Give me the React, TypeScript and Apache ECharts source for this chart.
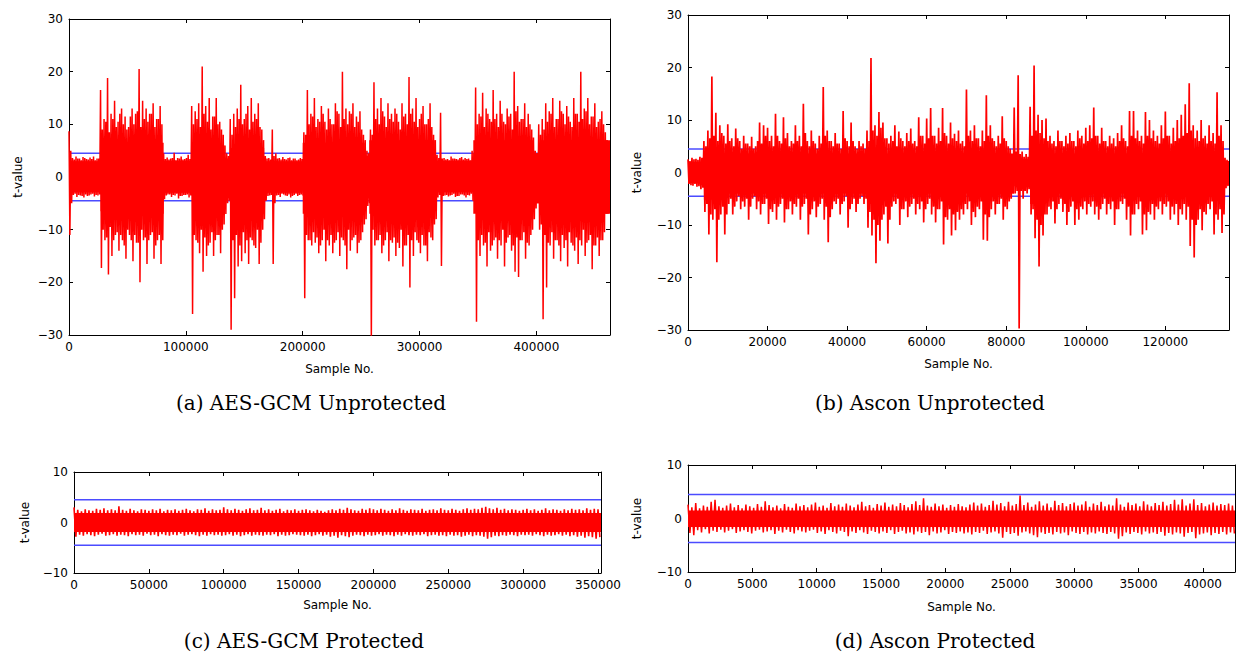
import React, { useEffect, useRef } from 'react';
import * as echarts from 'echarts';

// ---------- shared ----------
const THRESHOLD = 4.5;

// ---------- (a) AES-GCM Unprotected : per 3000-sample bin ----------
const A_STEP = 3000;
const A_MAX = 463000;
// extreme max / min in each bin
const A_HI = [
  8.7,
  3.6, 3.9, 3.5, 3.8, 3.4, 3.7, 3.9, 3.5,
  16.5, 11, 18.8, 12, 14.5, 10.5, 13, 11.5, 9.5, 13, 12, 20.5, 14.5, 13, 12, 14, 11, 13.5,
  4.5, 3.7, 3.5, 4.6, 3.6, 3.9, 3.4, 4.2,
  13.5, 12.5, 14, 21, 13.5, 15, 11.5, 15, 10.5, 8, 4.5,
  11, 12, 13, 17.5, 11, 13.5, 15, 12, 14, 9,
  4, 3.6, 9,
  4.5, 3.6, 3.8, 3.3, 3.7, 3.5, 3.2, 3.6,
  8.5, 16.5, 12, 15, 11, 13.5, 10.5, 13, 10, 14, 12, 20, 13, 12.5, 14, 11.5, 12.5, 8, 5,
  9, 18, 13, 15, 11.5, 14, 12, 13, 10.5, 14, 12, 19, 13, 15, 11, 13.5, 10, 14, 8,
  4.2, 12.2,
  3.6, 3.4, 3.9, 3.5, 3.3, 3.8, 3.6, 3.5,
  5, 17, 12, 16, 13, 11, 16.5, 12, 14.5, 10.5, 13, 12, 20, 13.5, 11, 14, 12, 9, 5, 10,
  11, 14, 12.5, 15, 11, 14.5, 12, 13.5, 10.5, 15, 12, 20, 13, 15, 11.5, 14, 10.5, 12.5, 8.5,
];
const A_LO = [
  -11,
  -3.4, -3.8, -3.5, -3.9, -3.6, -3.3, -3.7, -3.5,
  -17.3, -12, -18.5, -15, -11, -14, -12, -15.5, -11, -16, -12.5, -20, -12, -16.5, -11, -15.5, -12, -16.5,
  -4.2, -3.3, -3.8, -3.5, -4.1, -3.6, -3.4, -3.9,
  -26, -12, -14.5, -18, -15, -12.5, -15, -11, -14.5, -9, -5,
  -29, -23, -17, -16, -14.5, -16.5, -12, -13.5, -16.5, -10,
  -4.5, -3.5, -16.5,
  -3.5, -3.8, -3.3, -3.6, -3.9, -3.4, -3.6, -3.3,
  -23, -12, -13, -12.5, -14.5, -12, -16, -13, -14.5, -12, -15, -12, -17.5, -14, -11.5, -14.5, -12, -9, -5.5,
  -31, -13, -12, -14.5, -12, -16, -12.5, -15, -13.5, -17, -13, -21, -15, -12, -14.5, -13, -16, -11.5, -9,
  -3.9, -16.9,
  -3.5, -3.7, -3.4, -3.8, -3.6, -3.3, -3.9, -3.5,
  -4.5, -27.5, -15, -13, -17, -14, -12, -15.5, -13, -17, -11.5, -14, -18, -19, -12, -15.5, -13, -10, -6, -10,
  -27, -21, -13, -15.5, -12, -16, -13.5, -17, -12.5, -14, -16.5, -13, -15, -12, -17.5, -13, -15, -12, -7,
];
// secondary (typical) peaks in each bin
const A_MHI = [
  5,
  3.3, 3.5, 3.2, 3.6, 3.3, 3.4, 3.2, 3.5,
  9, 10.5, 8.5, 11, 9.5, 12, 10, 9, 11.5, 10, 12.5, 9.5, 11, 10.5, 12, 9.5, 11, 10,
  3.4, 3.3, 3.6, 3.2, 3.5, 3.3, 3.6, 3.4,
  10, 11, 9.5, 12, 10.5, 9, 11.5, 10, 9, 6, 4,
  8, 9.5, 11, 10, 12, 9, 10.5, 11, 9.5, 7,
  3.5, 3.3, 4,
  3.5, 3.3, 3.4, 3.6, 3.2, 3.5, 3.3, 3.4,
  8, 10, 11.5, 9.5, 10.5, 12, 9, 11, 10, 12.5, 9.5, 11, 10, 12, 9.5, 10.5, 9, 7, 4.5,
  8, 11, 10, 12.5, 9.5, 11, 10.5, 12, 9, 11.5, 10, 12, 10.5, 9.5, 12, 10, 11, 9.5, 7,
  3.6, 3.5,
  3.3, 3.2, 3.5, 3.4, 3.6, 3.3, 3.4, 3.2,
  4.5, 10, 11.5, 9.5, 12, 10.5, 11, 9.5, 12, 10, 11.5, 9, 12.5, 10.5, 11, 9.5, 10, 7.5, 4.5, 8,
  9, 10.5, 12, 9.5, 11, 12.5, 10, 11.5, 9.5, 12, 10.5, 11, 12.5, 10, 11.5, 9.5, 11, 10, 7,
];
const A_MLO = [
  -5,
  -3.2, -3.4, -3.6, -3.3, -3.5, -3.2, -3.4, -3.3,
  -10, -11.5, -9.5, -12, -10.5, -11, -13, -10, -12, -11, -12.5, -10, -11.5, -12, -10.5, -13, -11, -12,
  -3.5, -3.3, -3.4, -3.2, -3.6, -3.4, -3.3, -3.5,
  -11, -12.5, -10, -11.5, -13, -10.5, -12, -11, -10, -7, -4.5,
  -12, -11, -13, -10.5, -12, -11.5, -13, -10, -12.5, -8,
  -3.6, -3.4, -5,
  -3.4, -3.2, -3.5, -3.3, -3.6, -3.2, -3.4, -3.5,
  -11, -12, -10.5, -11.5, -13, -10, -12, -11, -12.5, -10.5, -11.5, -13, -10, -12, -11, -12.5, -10.5, -8, -5,
  -10, -12, -11, -13, -10.5, -12, -11.5, -12.5, -10, -13, -11, -12, -10.5, -12.5, -11, -13, -10.5, -12, -8,
  -3.4, -3.6,
  -3.4, -3.5, -3.2, -3.6, -3.3, -3.5, -3.4, -3.2,
  -5, -12, -11, -12.5, -10.5, -13, -11.5, -12, -10, -12.5, -11, -13, -11.5, -12, -10.5, -12.5, -11, -8, -5, -9,
  -11, -12.5, -10.5, -12, -13, -11, -12, -10.5, -13, -11.5, -12, -10, -12.5, -11, -13, -11.5, -12, -10.5, -7,
];
// dense band: [startSample, endSample, top, bottom]
const A_CORE = [
  [0, 27000, 3.0, -2.9],
  [27000, 45000, 6, -6.5],
  [45000, 81000, 6.5, -7],
  [81000, 106000, 3.1, -3.0],
  [106000, 133000, 6, -7],
  [133000, 138000, 3.5, -4],
  [138000, 167000, 5.5, -7],
  [167000, 200000, 3.0, -3.0],
  [200000, 253000, 6.5, -7],
  [253000, 257000, 4, -4],
  [257000, 313000, 7, -7],
  [313000, 346000, 3.1, -2.9],
  [346000, 397000, 7, -7],
  [397000, 403000, 4.5, -5],
  [403000, 463000, 7, -7],
];

// ---------- (b) Ascon Unprotected : per 1000-sample bin ----------
const B_STEP = 1000;
const B_MAX = 136000;
const B_HI = [
  2.5, 2.8, 2.6, 3.0, 6, 8, 18.3, 11.4, 9, 7,
  9.2, 6.5, 8.4, 6, 7, 5.5, 6.8, 5, 9.5, 9,
  8.5, 7, 11.2, 6, 10.5, 7.5, 6, 9, 7, 13.1,
  6, 8, 5.5, 7, 16.3, 8, 6, 7.5, 5.5, 11.7,
  6, 9.5, 5, 6, 5.5, 8, 21.8, 9, 11.5, 9.5,
  6.5, 7, 9, 7.8, 6, 7.5, 8.4, 6, 10.5, 7,
  10.3, 12.3, 7, 8.5, 12.3, 7, 9.5, 7.4, 8, 6,
  15.8, 8, 9, 6.5, 8, 14.7, 9, 6, 7, 10.7,
  6, 4.5, 12.4, 18.5, 4, 3.5, 12.5, 20.4, 11, 10,
  10.3, 7, 6, 8, 6, 7, 7.5, 6, 8, 7,
  8.5, 9, 12.4, 7, 8.5, 6, 7, 6.5, 7.5, 9,
  6, 11.7, 11.7, 8, 7, 11.5, 10, 8, 7, 9,
  11.6, 7, 8.5, 10, 11, 13, 17, 9, 8, 10,
  7, 9, 7.5, 15.3, 9, 2.8,
];
const B_LO = [
  -2.2, -2.5, -2.7, -3.2, -7.5, -11.8, -9, -17.1, -8, -11.8,
  -6, -8, -5.5, -7, -6.5, -9, -5, -7, -8, -6,
  -9.8, -7.5, -9, -6, -9.5, -7, -8, -6.5, -9, -6,
  -11.8, -7, -8.5, -6, -9, -13.3, -7, -6, -8, -5.5,
  -10.5, -6, -7.5, -5, -6, -10.5, -12, -17.3, -13, -8,
  -13.5, -6.5, -6, -10, -7, -8.5, -6, -8, -7, -9.5,
  -6, -8, -9.5, -7, -13.7, -9, -12, -11, -9, -8,
  -7, -10, -8.5, -7, -12.8, -13, -7, -8, -6, -9,
  -7, -5, -4, -29.7, -5, -4, -8, -12.5, -17.9, -12,
  -8, -7, -9.7, -6, -7.5, -10, -6.5, -10, -9, -7,
  -8, -6.5, -8, -9, -6, -8, -7, -10, -7, -6,
  -9, -12, -8, -7, -11.8, -11, -8, -9, -7, -8,
  -6.5, -9, -8, -10, -8, -9, -14, -16.2, -9, -11,
  -8, -7, -11.8, -9, -11.5, -3,
];
const B_MHI = [
  2.2, 2.5, 2.4, 2.8, 5, 6.5, 7, 6, 7.5, 5.5,
  6, 5, 6.5, 4.5, 5.5, 5, 4.5, 6, 5.5, 7,
  6, 5, 7, 5.5, 6.5, 5, 5.5, 6, 5, 7.5,
  5, 6, 4.5, 5.5, 7, 6, 5, 5.5, 4.5, 6.5,
  5, 6, 4.5, 5, 4.5, 6, 8, 7, 8.5, 6.5,
  5.5, 6, 5, 6.5, 5, 6, 5.5, 5, 7, 5.5,
  6.5, 7, 5.5, 6, 7.5, 5.5, 6.5, 6, 5.5, 5,
  7, 6, 6.5, 5, 6, 7, 6.5, 5, 5.5, 6.5,
  5, 3.5, 4, 3.5, 3, 3, 7, 8, 7.5, 6.5,
  6, 5.5, 5, 6, 5, 5.5, 6, 5, 6.5, 5.5,
  6, 6.5, 7, 5.5, 6, 5, 5.5, 5, 6, 6.5,
  5, 7, 6.5, 6, 5.5, 7, 6.5, 6, 5.5, 6.5,
  7, 5.5, 6, 6.5, 7, 7.5, 8, 6.5, 6, 6.5,
  5.5, 6, 5.5, 7, 6, 2.4,
];
const B_MLO = [
  -2.4, -2.2, -2.6, -2.9, -6, -8, -7, -9, -6.5, -8,
  -5, -6.5, -4.5, -5.5, -5, -6.5, -4.5, -5.5, -6, -5,
  -7, -6, -6.5, -5, -7, -5.5, -6, -5, -6.5, -5,
  -8, -5.5, -6.5, -5, -6.5, -8.5, -5.5, -5, -6, -4.5,
  -7, -5, -6, -4.5, -5, -7.5, -9, -10, -9, -6.5,
  -9, -5.5, -5, -7, -5.5, -6.5, -5, -6, -5.5, -7,
  -5, -6.5, -7, -5.5, -8.5, -7, -8, -7.5, -7, -6,
  -5.5, -7.5, -6.5, -5.5, -8, -8.5, -5.5, -6, -5, -6.5,
  -5.5, -4, -3.5, -3.5, -3.5, -3.2, -7, -9, -10, -8,
  -6.5, -5.5, -7, -5, -6, -7.5, -5.5, -7, -6.5, -5.5,
  -6, -5.5, -6.5, -7, -5, -6, -5.5, -7, -5.5, -5,
  -6.5, -8, -6, -5.5, -8, -7.5, -6, -6.5, -5.5, -6,
  -5.5, -6.5, -6, -7, -6, -6.5, -9, -10, -7, -7.5,
  -6, -5.5, -8, -7, -8, -2.6,
];
const B_CORE = [
  [0, 4000, 2.0, -2.0],
  [4000, 9000, 4.2, -5.2],
  [9000, 45000, 3.6, -4],
  [45000, 49000, 4.8, -6],
  [49000, 82000, 3.6, -4],
  [82000, 86000, 2.6, -2.6],
  [86000, 90000, 4.8, -6],
  [90000, 134000, 3.6, -4],
  [134000, 136000, 2.2, -2.4],
];

// ---------- (c) AES-GCM Protected : extremes per 2500-sample bin ----------
const C_STEP = 2500;
const C_MAX = 352000;
const C_HI = [
  3.0, 2.5, 2.2, 2.6, 2.4, 2.3, 2.7, 2.5, 2.8, 2.4,
  2.6, 2.4, 3.2, 2.5, 2.3, 2.7, 2.4, 2.2, 2.6, 2.5,
  2.3, 2.6, 2.4, 2.7, 2.2, 2.5, 2.4, 2.6, 2.3, 2.5,
  2.7, 2.4, 2.2, 2.6, 2.5, 2.8, 2.3, 2.6, 2.4, 2.5,
  3.0, 2.6, 2.4, 2.7, 2.5, 2.3, 2.6, 2.8, 2.4, 2.5,
  2.9, 2.4, 2.6, 2.3, 2.5, 2.7, 2.2, 2.5, 2.4, 2.6,
  2.3, 2.5, 2.6, 2.4, 2.2, 2.5, 2.3, 2.1, 2.4, 2.6,
  2.4, 2.7, 2.5, 2.9, 2.6, 2.4, 2.3, 2.7, 2.5, 2.8,
  2.6, 2.4, 2.7, 2.5, 2.3, 2.6, 2.4, 2.8, 2.5, 2.3,
  2.6, 2.5, 2.4, 2.7, 2.3, 2.5, 2.6, 2.4, 2.8, 2.5,
  2.4, 2.7, 2.5, 2.3, 2.6, 2.8, 2.5, 2.7, 2.6, 2.9,
  3.1, 2.8, 2.6, 2.9, 2.5, 2.7, 2.4, 2.6, 2.5, 2.3,
  2.5, 2.7, 2.4, 2.6, 2.3, 2.5, 2.8, 2.4, 2.6, 2.5,
  2.3, 2.6, 2.4, 2.7, 2.5, 2.6, 2.4, 2.8, 2.5, 2.7,
  2.6,
];
const C_LO = [
  -2.8, -2.4, -2.6, -2.3, -2.5, -2.7, -2.4, -2.2, -2.6, -2.5,
  -2.3, -2.6, -2.4, -2.5, -2.7, -2.3, -2.5, -2.4, -2.6, -2.2,
  -2.5, -2.4, -2.7, -2.3, -2.5, -2.6, -2.4, -2.5, -2.2, -2.6,
  -2.4, -2.3, -2.5, -2.7, -2.4, -2.6, -2.3, -2.5, -2.4, -2.6,
  -2.5, -2.3, -2.6, -2.4, -2.7, -2.5, -2.3, -2.6, -2.4, -2.5,
  -2.6, -2.4, -2.5, -2.3, -2.7, -2.4, -2.6, -2.5, -2.3, -2.4,
  -2.5, -2.6, -2.4, -2.7, -2.5, -2.3, -2.6, -2.4, -2.8, -2.6,
  -3.0, -2.5, -2.7, -2.9, -2.6, -2.4, -2.5, -2.7, -2.4, -2.6,
  -2.5, -2.3, -2.6, -2.4, -2.5, -2.7, -2.4, -2.6, -2.3, -2.5,
  -2.6, -2.4, -2.5, -2.3, -2.7, -2.5, -2.4, -2.6, -2.5, -2.7,
  -2.4, -2.6, -2.5, -2.8, -2.6, -2.4, -2.7, -2.5, -2.6, -2.8,
  -3.2, -2.9, -2.6, -2.7, -2.5, -2.6, -2.4, -2.5, -2.7, -2.4,
  -2.5, -2.4, -2.6, -2.3, -2.5, -2.7, -2.4, -2.6, -2.5, -2.3,
  -2.6, -2.4, -2.7, -2.5, -2.8, -2.6, -3.0, -2.7, -2.9, -3.2,
  -2.9,
];
const C_CORE = [[0, 352000, 1.9, -1.9]];

// ---------- (d) Ascon Protected : extremes per 300-sample bin ----------
const D_STEP = 300;
const D_MAX = 42500;
const D_HI = [
  2.6, 2.1, 2.9, 1.9, 2.4, 2.2, 3.1, 3.5, 2.3, 2.0,
  2.4, 2.8, 2.1, 2.5, 1.9, 2.6, 2.3, 2.0, 2.7, 2.2,
  3.2, 2.5, 2.1, 2.4, 1.9, 2.7, 2.2, 2.0, 2.8, 2.3,
  2.5, 2.1, 2.6, 3.0, 2.2, 2.4, 2.0, 2.9, 2.3, 2.6,
  2.2, 2.8, 2.4, 2.1, 2.6, 3.1, 2.3, 2.5, 2.0, 2.7,
  2.4, 3.0, 2.2, 2.6, 2.3, 2.9, 2.5, 2.1, 2.7, 3.2,
  2.5, 3.8, 2.4, 2.2, 2.8, 2.3, 2.6, 2.0, 2.5, 2.2,
  2.7, 2.3, 2.1, 2.6, 3.0, 2.4, 2.8, 2.2, 2.5, 3.3,
  2.6, 2.9, 2.3, 3.1, 2.4, 2.7, 4.3, 2.5, 3.0, 2.2,
  2.6, 3.2, 2.4, 2.8, 2.1, 3.3, 2.5, 2.9, 2.3, 2.7,
  3.0, 2.4, 2.6, 3.2, 2.2, 2.8, 2.5, 3.1, 2.3, 2.6,
  2.4, 3.8, 2.6, 2.2, 3.0, 2.5, 2.8, 2.3, 3.2, 2.6,
  2.3, 2.9, 2.5, 3.1, 2.4, 2.7, 3.5, 2.6, 3.6, 2.4,
  2.8, 3.6, 2.5, 2.9, 2.3, 2.6, 3.0, 2.4, 2.7, 2.5,
  2.8, 2.4,
];
const D_LO = [
  -2.7, -3.1, -2.2, -2.6, -2.0, -2.8, -2.3, -2.5, -2.1, -2.6,
  -2.3, -2.0, -2.7, -2.4, -2.2, -2.5, -2.8, -2.3, -2.1, -2.6,
  -2.4, -2.2, -2.9, -2.3, -2.6, -2.1, -2.5, -2.8, -2.2, -2.4,
  -2.6, -2.3, -2.1, -2.7, -2.4, -2.9, -2.2, -2.5, -2.8, -2.3,
  -2.5, -3.3, -2.4, -2.7, -2.2, -2.6, -2.9, -2.3, -2.5, -2.8,
  -2.4, -2.7, -2.2, -2.9, -2.5, -2.3, -2.8, -2.6, -3.0, -2.4,
  -2.7, -2.5, -3.1, -2.4, -2.8, -2.6, -2.2, -2.9, -2.5, -2.7,
  -2.4, -2.8, -2.6, -3.0, -2.5, -2.7, -2.3, -2.9, -2.6, -2.4,
  -2.8, -3.6, -2.5, -2.9, -2.7, -3.2, -2.6, -2.4, -2.8, -3.1,
  -3.5, -2.6, -2.9, -2.7, -3.0, -2.5, -2.8, -2.6, -3.1, -2.4,
  -2.7, -2.9, -2.5, -3.0, -2.6, -2.8, -2.4, -2.7, -2.9, -2.5,
  -2.8, -3.8, -3.3, -2.6, -2.9, -2.5, -2.7, -3.0, -2.4, -2.8,
  -2.6, -2.9, -2.5, -3.2, -2.7, -3.0, -2.6, -2.8, -3.4, -2.7,
  -2.5, -3.7, -3.0, -2.8, -2.6, -3.1, -2.7, -2.9, -2.5, -3.0,
  -2.6, -2.8,
];
const D_CORE = [[0, 42500, 1.5, -1.6]];

// ---------- panels (layout) ----------
const PANELS = [
  {
    grid: { left: 69, top: 19, width: 541, height: 316 },
    xMax: A_MAX, xInterval: 100000, yMin: -30, yMax: 30, yInterval: 10,
    step: A_STEP, hi: A_HI, lo: A_LO, mhi: A_MHI, mlo: A_MLO, core: A_CORE, lw: 1.5,
    caption: '(a) AES-GCM Unprotected', cx: 311, cy: 403, gapX: 28, gapY: 45,
  },
  {
    grid: { left: 688, top: 15, width: 541, height: 315 },
    xMax: B_MAX, xInterval: 20000, yMin: -30, yMax: 30, yInterval: 10,
    step: B_STEP, hi: B_HI, lo: B_LO, mhi: B_MHI, mlo: B_MLO, core: B_CORE, lw: 1.7,
    caption: '(b) Ascon Unprotected', cx: 930, cy: 403, gapX: 28, gapY: 45,
  },
  {
    grid: { left: 74, top: 472, width: 527, height: 101 },
    xMax: C_MAX, xInterval: 50000, yMin: -10, yMax: 10, yInterval: 10,
    step: C_STEP, hi: C_HI, lo: C_LO, mhi: null, mlo: null, core: C_CORE, lw: 1.6,
    caption: '(c) AES-GCM Protected', cx: 304, cy: 641, gapX: 26, gapY: 43,
  },
  {
    grid: { left: 688, top: 465, width: 547, height: 107 },
    xMax: D_MAX, xInterval: 5000, yMin: -10, yMax: 10, yInterval: 10,
    step: D_STEP, hi: D_HI, lo: D_LO, mhi: null, mlo: null, core: D_CORE, lw: 1.5,
    caption: '(d) Ascon Protected', cx: 935, cy: 641, gapX: 29, gapY: 45,
  },
];

const FONT = 'DejaVu Sans';
const fmtY = (v: number) => (v < 0 ? '\u2212' + Math.abs(v) : String(v));

function buildTrace(step: number, hi: number[], lo: number[], mhi: number[] | null, mlo: number[] | null) {
  const pts: number[][] = [];
  for (let i = 0; i < hi.length; i++) {
    const x = i * step;
    if (mhi && mlo) {
      pts.push([x, hi[i]]);
      pts.push([x + step / 4, lo[i]]);
      pts.push([x + step / 2, mhi[i]]);
      pts.push([x + (3 * step) / 4, mlo[i]]);
    } else {
      pts.push([x, hi[i]]);
      pts.push([x + step / 2, lo[i]]);
    }
  }
  return pts;
}

function buildOption() {
  const grid: any[] = [];
  const xAxis: any[] = [];
  const yAxis: any[] = [];
  const series: any[] = [];
  const graphic: any[] = [];
  const spine = { show: true, onZero: false, lineStyle: { color: '#000', width: 1 } };
  const tick = { show: true, inside: true, length: 4, lineStyle: { color: '#000', width: 1 } };

  PANELS.forEach((p, k) => {
    grid.push({ ...p.grid, containLabel: false });
    const xBase = { gridIndex: k, type: 'value', min: 0, max: p.xMax, interval: p.xInterval, splitLine: { show: false }, axisLine: spine, axisTick: tick };
    const yBase = { gridIndex: k, type: 'value', min: p.yMin, max: p.yMax, interval: p.yInterval, splitLine: { show: false }, axisLine: spine, axisTick: tick };
    xAxis.push({
      ...xBase, position: 'bottom',
      axisLabel: { fontFamily: FONT, fontSize: 12, color: '#000', margin: 6, showMaxLabel: false, formatter: (v: number) => String(v) },
      name: 'Sample No.', nameLocation: 'middle', nameGap: p.gapX,
      nameTextStyle: { fontFamily: FONT, fontSize: 12, color: '#000' },
    });
    xAxis.push({ ...xBase, position: 'top', axisLabel: { show: false } });
    yAxis.push({
      ...yBase, position: 'left',
      axisLabel: { fontFamily: FONT, fontSize: 12, color: '#000', margin: 6, formatter: fmtY },
      name: 't-value', nameLocation: 'middle', nameGap: p.gapY, nameRotate: 90,
      nameTextStyle: { fontFamily: FONT, fontSize: 12, color: '#000' },
    });
    yAxis.push({ ...yBase, position: 'right', axisLabel: { show: false } });

    const xi = 2 * k;
    const yi = 2 * k;
    [THRESHOLD, -THRESHOLD].forEach((t) => {
      series.push({
        type: 'line', xAxisIndex: xi, yAxisIndex: yi, silent: true, z: 1,
        data: [[0, t], [p.xMax, t]], symbol: 'none',
        lineStyle: { color: '#4b4bff', width: 1.5 },
      });
    });
    series.push({
      type: 'custom', xAxisIndex: xi, yAxisIndex: yi, silent: true, z: 2, clip: true,
      data: p.core,
      encode: { x: [0, 1], y: [2, 3] },
      renderItem: (_params: any, api: any) => {
        const a = api.coord([api.value(0), api.value(2)]);
        const b = api.coord([api.value(1), api.value(3)]);
        return {
          type: 'rect',
          shape: { x: a[0], y: a[1], width: b[0] - a[0], height: b[1] - a[1] },
          style: { fill: '#ff0000' },
        };
      },
    });
    series.push({
      type: 'line', xAxisIndex: xi, yAxisIndex: yi, silent: true, z: 3, clip: true,
      data: buildTrace(p.step, p.hi, p.lo, p.mhi, p.mlo), symbol: 'none', showSymbol: false,
      lineStyle: { color: '#ff0000', width: p.lw, join: 'miter', miterLimit: 4 },
    });

    graphic.push({
      type: 'text', x: p.cx, y: p.cy,
      style: {
        text: p.caption, fill: '#000', font: '20px "DejaVu Serif"',
        align: 'center', verticalAlign: 'middle', textAlign: 'center', textVerticalAlign: 'middle',
      },
    });
  });

  return { animation: false, backgroundColor: '#fff', grid, xAxis, yAxis, series, graphic };
}

export default function App() {
  const ref = useRef<HTMLDivElement>(null);
  useEffect(() => {
    if (!ref.current) return;
    const chart = echarts.init(ref.current, undefined, { renderer: 'svg' });
    chart.setOption(buildOption() as any);
    return () => chart.dispose();
  }, []);
  return (
    <div
      ref={ref}
      style={{ position: 'absolute', left: 0, top: 0, width: 1238, height: 658, background: '#fff' }}
    />
  );
}
